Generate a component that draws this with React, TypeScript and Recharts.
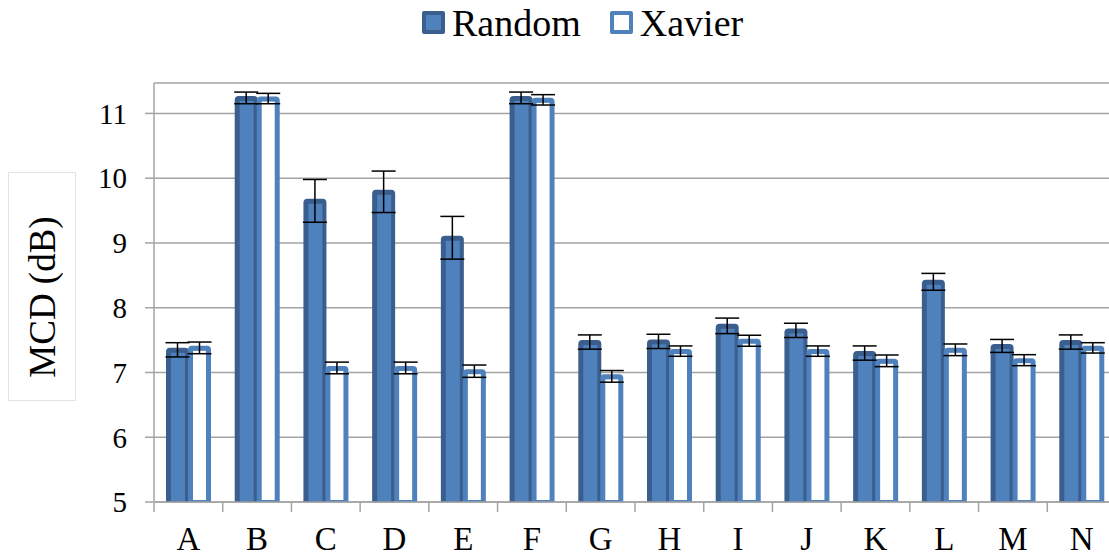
import React from "react";
import {
  BarChart,
  Bar,
  XAxis,
  YAxis,
  CartesianGrid,
  Legend,
  ErrorBar,
} from "recharts";

const categories = ["A", "B", "C", "D", "E", "F", "G", "H", "I", "J", "K", "L", "M", "N"];
const randomMcd = [7.35, 11.24, 9.65, 9.79, 9.08, 11.24, 7.47, 7.48, 7.72, 7.65, 7.3, 8.4, 7.41, 7.47];
const randomErr = [0.11, 0.09, 0.33, 0.32, 0.33, 0.09, 0.11, 0.11, 0.12, 0.11, 0.11, 0.13, 0.1, 0.11];
const xavierMcd = [7.38, 11.23, 7.07, 7.07, 7.02, 11.21, 6.94, 7.33, 7.49, 7.33, 7.18, 7.35, 7.19, 7.38];
const xavierErr = [0.09, 0.08, 0.09, 0.09, 0.095, 0.08, 0.09, 0.08, 0.085, 0.08, 0.09, 0.09, 0.085, 0.08];
const yTicks = [5, 6, 7, 8, 9, 10, 11];

const chartData = categories.map((name, i) => ({
  name,
  random: randomMcd[i],
  randomErr: randomErr[i],
  xavier: xavierMcd[i],
  xavierErr: xavierErr[i],
}));

const W = 1116;
const H = 556;
const AXIS_W = 154;
const CAT_W = (W - AXIS_W) / categories.length;
const FONT = '"Liberation Serif", "Times New Roman", "DejaVu Serif", serif';
const GRID = "#A3A3A3";
const BLUE = "#4F81BD";
const DARK = "#3A5F8E";

function topRounded(x: number, y: number, w: number, h: number, r: number) {
  return `M${x},${y + h} L${x},${y + r} Q${x},${y} ${x + r},${y} L${x + w - r},${y} Q${x + w},${y} ${x + w},${y + r} L${x + w},${y + h} Z`;
}

function RandomShape(props: any) {
  const { x, y, width, height } = props;
  if (!height || height <= 0) return null;
  return (
    <g>
      <path d={topRounded(x, y - 2, width, height + 2, 4)} fill={DARK} />
      <rect x={x + 5} y={y + 3} width={width - 9} height={height - 4} fill={BLUE} />
    </g>
  );
}

function XavierShape(props: any) {
  const { x, y, width, height } = props;
  if (!height || height <= 0) return null;
  return (
    <g>
      <path d={topRounded(x, y - 2, width, height + 2, 4)} fill={BLUE} />
      <rect x={x + 5} y={y + 3} width={width - 10} height={height - 5} fill="#fff" />
    </g>
  );
}

function CatTick(props: any) {
  const { x, y, payload } = props;
  const half = payload.offset || CAT_W / 2;
  return (
    <g>
      <line x1={x - half} x2={x - half} y1={y} y2={y + 10} stroke={GRID} strokeWidth={1.5} />
      <text x={x} y={y + 48} textAnchor="middle" fontSize={33} style={{ fontFamily: FONT }} fill="#000">
        {payload.value}
      </text>
    </g>
  );
}

function LegendBox() {
  const item = (label: string, fill: string, border: string) => (
    <div style={{ display: "flex", alignItems: "center", marginRight: 29 }}>
      <div
        style={{
          width: 15,
          height: 15,
          border: `4px solid ${border}`,
          background: fill,
          borderRadius: 2,
          marginRight: 7,
        }}
      />
      <span style={{ fontFamily: FONT, fontSize: 38, color: "#000", lineHeight: "42px" }}>{label}</span>
    </div>
  );
  return (
    <div style={{ display: "flex", height: 45, paddingLeft: 422, alignItems: "center" }}>
      {item("Random", BLUE, DARK)}
      {item("Xavier", "#fff", BLUE)}
    </div>
  );
}

function YLabel() {
  return (
    <g>
      <rect x={8.5} y={172.5} width={67} height={228} fill="none" stroke="#E3E3E3" />
      <text
        transform="translate(55, 297) rotate(-90)"
        textAnchor="middle"
        fontSize={37}
        style={{ fontFamily: FONT }}
        fill="#000"
      >
        MCD (dB)
      </text>
    </g>
  );
}

export default function App() {
  return (
    <div
      style={{
        position: "absolute",
        left: 0,
        top: 0,
        width: 1109,
        height: H,
        overflow: "hidden",
        background: "#fff",
        fontFamily: FONT,
      }}
    >
      <BarChart
        width={W}
        height={H}
        data={chartData}
        margin={{ top: 38, right: 0, left: 0, bottom: 0 }}
        barSize={23}
        barGap={-1}
        style={{ fontFamily: FONT }}
      >
        <CartesianGrid vertical={false} stroke={GRID} strokeWidth={1.5} />
        <Legend
          verticalAlign="top"
          align="left"
          wrapperStyle={{ top: 0, left: 0 }}
          content={() => <LegendBox />}
        />
        <XAxis
          dataKey="name"
          height={54}
          tickSize={0}
          tickMargin={0}
          tick={<CatTick />}
          axisLine={{ stroke: GRID, strokeWidth: 1.5 }}
          tickLine={false}
          interval={0}
        />
        <YAxis
          width={AXIS_W}
          domain={[5, 11.47]}
          ticks={yTicks}
          allowDataOverflow
          tickSize={9}
          tickMargin={18}
          tick={{ fontSize: 29, fill: "#000", style: { fontFamily: FONT } }}
          axisLine={{ stroke: GRID, strokeWidth: 1.5 }}
          tickLine={{ stroke: GRID, strokeWidth: 1.5 }}
          label={{ content: () => <YLabel /> }}
        />
        <Bar dataKey="random" name="Random" shape={<RandomShape />} isAnimationActive={false}>
          <ErrorBar dataKey="randomErr" width={12} stroke="#000" strokeWidth={1.5} direction="y" isAnimationActive={false} />
        </Bar>
        <Bar dataKey="xavier" name="Xavier" shape={<XavierShape />} isAnimationActive={false}>
          <ErrorBar dataKey="xavierErr" width={12} stroke="#000" strokeWidth={1.5} direction="y" isAnimationActive={false} />
        </Bar>
      </BarChart>
    </div>
  );
}
